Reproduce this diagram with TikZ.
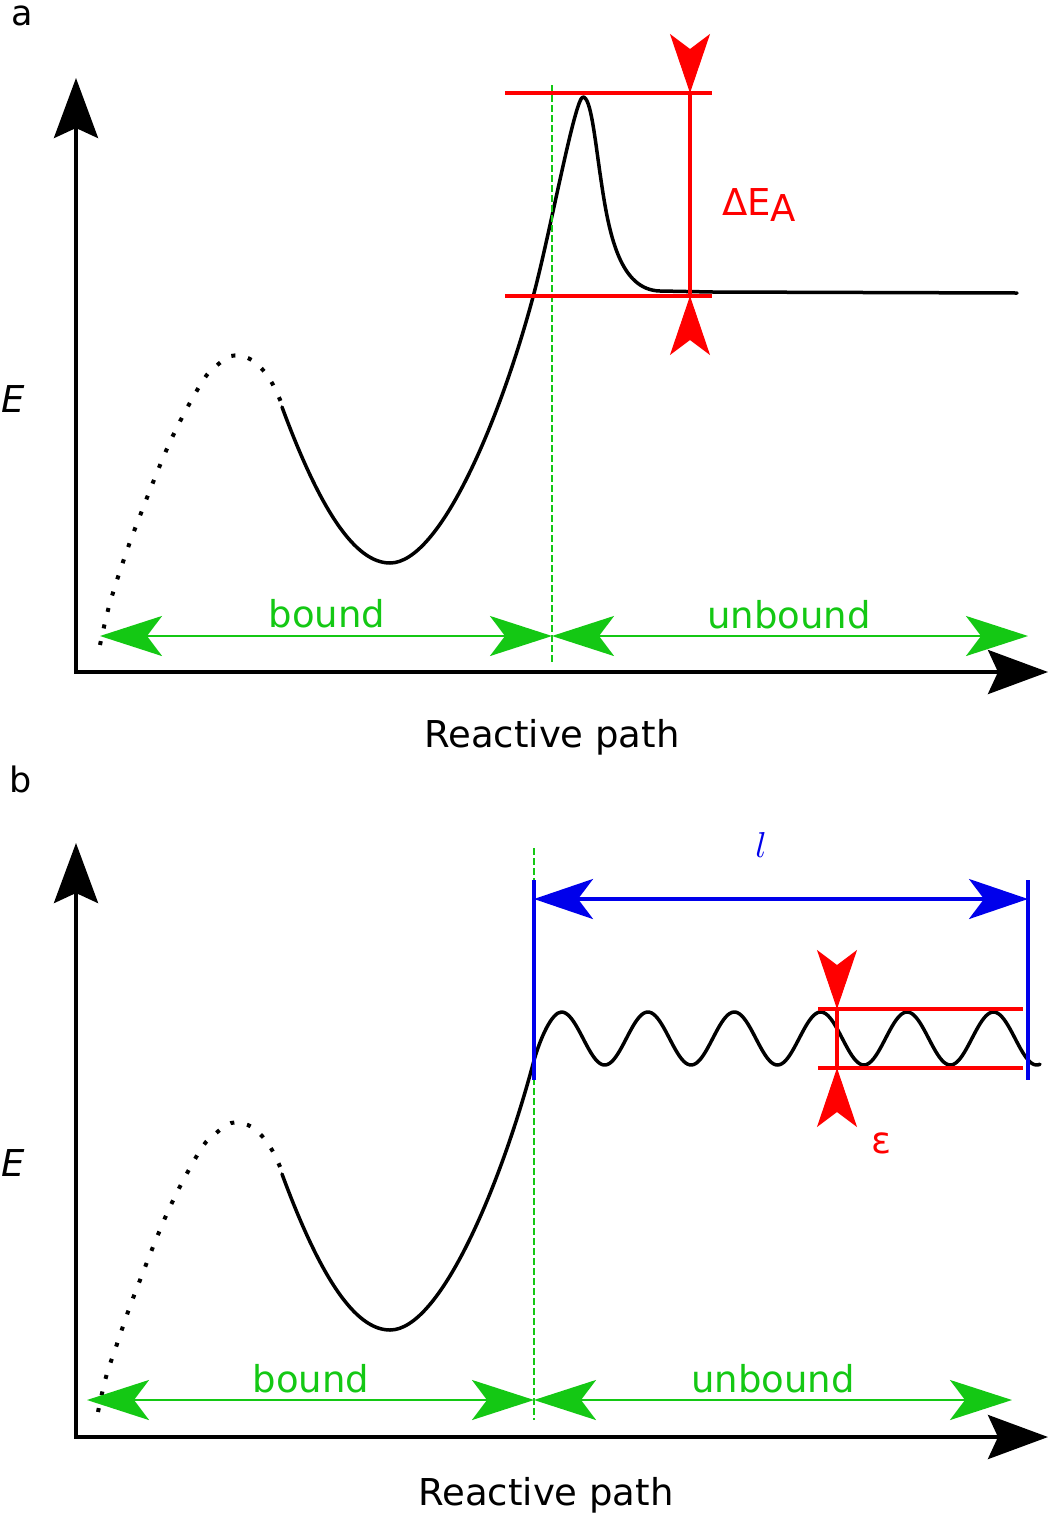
\documentclass[tikz,border=0pt]{standalone}
\usepackage{graphicx}
\usepackage{fontspec}
\setmainfont{DejaVu Sans}
\usetikzlibrary{arrows.meta}
\definecolor{gr}{RGB}{20,200,20}
\definecolor{rd}{RGB}{255,0,0}
\definecolor{bl}{RGB}{0,0,235}
\begin{document}
\begin{tikzpicture}[x=1pt,y=-1pt,
 axisline/.style={line width=4pt, line join=miter, {Stealth[length=60pt,width=44pt,inset=10pt]}-{Stealth[length=60pt,width=44pt,inset=10pt]}},
 curve/.style={line width=3.5pt, line cap=round, line join=round},
 dotcurve/.style={line width=4pt, dash pattern=on 4pt off 13pt},
 gline/.style={draw=gr, line width=2.5pt, {Stealth[length=62pt,width=40pt,inset=15pt]}-{Stealth[length=62pt,width=40pt,inset=15pt]}},
 gdash/.style={draw=gr, line width=2pt, dash pattern=on 7pt off 3pt},
 rline/.style={draw=rd, line width=3.5pt},
 rarr/.style={draw=rd, fill=rd, line width=1pt, -{Stealth[length=59pt,width=40pt,inset=15pt]}},
 bline/.style={draw=bl, line width=3.5pt},
 barr/.style={draw=bl, line width=3.5pt, {Stealth[length=59pt,width=40pt,inset=15pt]}-{Stealth[length=59pt,width=40pt,inset=15pt]}},
 lbl/.style={font=\fontsize{37}{44}\selectfont, inner sep=0pt, anchor=base},
 pnl/.style={font=\fontsize{35}{40}\selectfont, inner sep=0pt, anchor=base},
]
\useasboundingbox (0,0) rectangle (1050,1516);
\fill[white] (0,0) rectangle (1050,1516);

% ================= panel a =================
\node[pnl] (la) at (22,25) {a};
\coordinate (Ya) at (76,78);
\coordinate (Oa) at (76,672);
\coordinate (Xa) at (1048,672);
\draw[axisline] (Ya) -- (Oa) -- (Xa);

% dotted part
\draw[dotcurve] plot[smooth, tension=0.6] coordinates {(100,645) (108,610) (118,577) (130,542) (143,508) (156,475) (170,442) (186,410) (204,379) (215,367) (231,356) (248,358) (262,369) (272,383) (281,402)};
% solid part
\draw[curve] (282,407) .. controls (320,510) and (355,563) .. (390,563)
  .. controls (440,563) and (500,420) .. (533,297)
  .. controls (550,234) and (575,97) .. (583,97)
  .. controls (591,97) and (595,140) .. (601,180)
  .. controls (609,235) and (620,290) .. (660,291)
  -- (713,292) -- (1017,293);

% green dashed separator
\coordinate (ga1) at (552,85);
\coordinate (ga2) at (552,662);
\draw[gdash] (ga1) -- (ga2);

% red barrier
\coordinate (raT1) at (505,93);
\coordinate (raT2) at (712,93);
\coordinate (raB1) at (505,296);
\coordinate (raB2) at (712,296);
\coordinate (raVt) at (690,93);
\coordinate (raVb) at (690,296);
\coordinate (raAt) at (690,53);
\coordinate (raAb) at (690,336);
\draw[rline] (raT1) -- (raT2);
\draw[rline] (raB1) -- (raB2);
\draw[rline] (raVt) -- (raVb);
\draw[rarr] (raAt) -- (raVt);
\draw[rarr] (raAb) -- (raVb);
\node[lbl, anchor=base west, text=rd] (dea) at (722,215) {ΔE\raisebox{-6pt}{A}};

% green ranges
\coordinate (gba1) at (100,636);
\coordinate (gba2) at (552,636);
\coordinate (gua1) at (552,636);
\coordinate (gua2) at (1028,636);
\draw[gline] (gba1) -- (gba2);
\draw[gline] (gua1) -- (gua2);
\node[lbl, text=gr] (tba) at (327,627) {bound};
\node[lbl, text=gr] (tua) at (789,628) {unbound};

\node[lbl, font=\fontsize{37}{44}\selectfont\itshape] (Ea) at (13,412) {E};
\node[lbl] (rpa) at (552,747) {Reactive path};

% ================= panel b =================
\node[pnl] (lb) at (21,792) {b};
\coordinate (Yb) at (76,843);
\coordinate (Ob) at (76,1437);
\coordinate (Xb) at (1048,1437);
\draw[axisline] (Yb) -- (Ob) -- (Xb);

\begin{scope}[shift={(0,767)}]
\draw[dotcurve] plot[smooth, tension=0.6] coordinates {(98,645) (106,610) (117,577) (129,542) (142,508) (155,475) (169,442) (185,410) (203,379) (215,367) (231,356) (248,358) (262,369) (272,383) (281,402)};
\draw[curve] (282,407) .. controls (320,510) and (355,563) .. (390,563)
  .. controls (440,563) and (500,420) .. (533,297)
  .. controls (540,271) and (552,245) .. (561.5,245)
  -- plot[domain=0:478.5, samples=240] ({561.5+\x}, {271.5 - 26.5*cos(4.16667*\x)});
\end{scope}

% green dashed separator
\coordinate (gb1) at (534,848);
\coordinate (gb2) at (534,1420);
\draw[gdash] (gb1) -- (gb2);

% blue length
\coordinate (bvL1) at (534,880);
\coordinate (bvL2) at (534,1080);
\coordinate (bvR1) at (1028,880);
\coordinate (bvR2) at (1028,1080);
\coordinate (bL) at (534,899);
\coordinate (bR) at (1028,899);
\draw[bline] (bvL1) -- (bvL2);
\draw[bline] (bvR1) -- (bvR2);
\draw[barr] (bL) -- (bR);
\node[inner sep=0pt, anchor=base, text=bl, font=\fontsize{10}{12}\selectfont] (tl) at (761,857) {\scalebox{3.6}{$l$}};

% red epsilon
\coordinate (rbT1) at (818,1009);
\coordinate (rbT2) at (1023,1009);
\coordinate (rbB1) at (818,1068);
\coordinate (rbB2) at (1023,1068);
\coordinate (rbVt) at (837,1009);
\coordinate (rbVb) at (837,1068);
\coordinate (rbAt) at (837,969);
\coordinate (rbAb) at (837,1108);
\draw[rline] (rbT1) -- (rbT2);
\draw[rline] (rbB1) -- (rbB2);
\draw[rline] (rbVt) -- (rbVb);
\draw[rarr] (rbAt) -- (rbVt);
\draw[rarr] (rbAb) -- (rbVb);
\node[lbl, text=rd] (teps) at (881,1153) {ε};

% green ranges
\coordinate (gbb1) at (87,1400);
\coordinate (gbb2) at (534,1400);
\coordinate (gub1) at (534,1400);
\coordinate (gub2) at (1012,1400);
\draw[gline] (gbb1) -- (gbb2);
\draw[gline] (gub1) -- (gub2);
\node[lbl, text=gr] (tbb) at (311,1392) {bound};
\node[lbl, text=gr] (tub) at (773,1392) {unbound};

\node[lbl, font=\fontsize{37}{44}\selectfont\itshape] (Eb) at (13,1176) {E};
\node[lbl] (rpb) at (546,1505) {Reactive path};
\end{tikzpicture}
\end{document}
